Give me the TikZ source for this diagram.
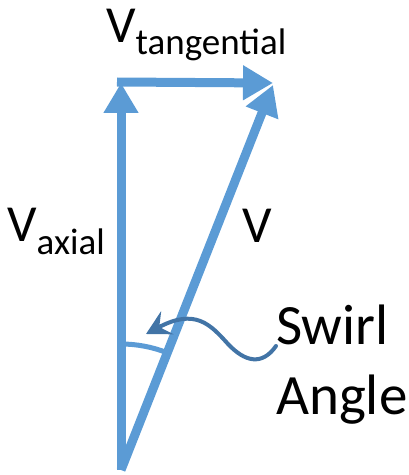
\documentclass[tikz,border=0pt]{standalone}
\usepackage{fontspec}
\setmainfont{Carlito}
\usetikzlibrary{arrows.meta}

\definecolor{vecblue}{RGB}{91,155,213}
\definecolor{pointblue}{RGB}{66,116,166}

% V with a lowered subscript
\newcommand{\vsub}[1]{V\raisebox{-12pt}{\fontsize{37}{44}\selectfont #1}}

\begin{document}
\begin{tikzpicture}[x=1pt,y=1pt,line cap=butt,line join=miter,
  vec/.style={vecblue,line width=9pt,-{Triangle[length=30pt,width=33pt]}},
  lbl/.style={anchor=base west,inner sep=0pt,font=\fontsize{52}{62}\selectfont},
  big/.style={anchor=base west,inner sep=0pt,font=\fontsize{57}{68}\selectfont}]
\useasboundingbox (0,0) rectangle (409,475);

% corner points of the velocity triangle
\coordinate (O) at (121,5);
\coordinate (A) at (121,392);
\coordinate (S) at (117,393);
\coordinate (T) at (273,392);
\coordinate (TV) at (273,390);

% velocity vectors
\draw[vec] (O)--(A);
\draw[vec] (S)--(T);
\draw[vec] (O)--(TV);

% swirl angle arc
\draw[vecblue,line width=5pt] (O) ++(90:126) arc[start angle=90,end angle=68.5,radius=126];

% labels
\node[lbl] (vtan) at (106,432) {\vsub{tangential}};
\node[lbl] (vax)  at (7,233)   {\vsub{axial}};
\node[lbl] (v)    at (242,232) {V};
\node[big] (swirl) at (276,130) {Swirl};
\node[big] (angle) at (276,60)  {Angle};

% pointer from the text to the arc
\coordinate (P) at (146,141);
\draw[pointblue,line width=4pt,line cap=round,-{Stealth[length=24pt,width=26pt,inset=9pt]}]
  (276,129) .. controls (262,109) and (245,113) .. (228,131)
            .. controls (210,151) and (195,167) .. (P);

\end{tikzpicture}
\end{document}
